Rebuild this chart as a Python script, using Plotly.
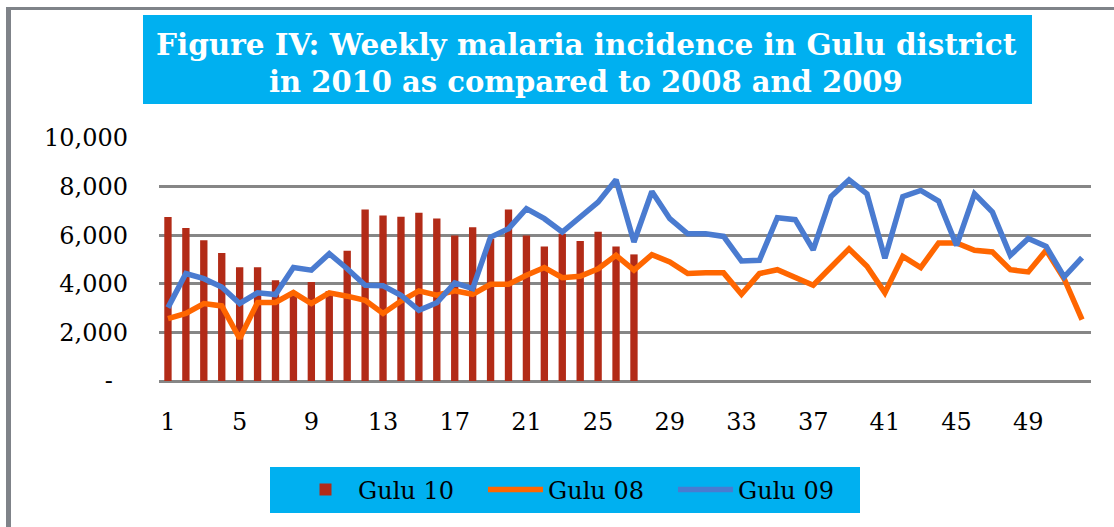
import plotly.graph_objects as go

weeks = list(range(1, 53))
gulu10 = [6750, 6300, 5790, 5270, 4680, 4680, 4150, 3600, 4070, 3700,
          5360, 7060, 6810, 6760, 6920, 6690, 5990, 6330, 5850, 7060,
          5990, 5530, 6060, 5760, 6140, 5530, 5210]
gulu08 = [2570, 2780, 3190, 3090, 1750, 3230, 3230, 3640, 3190, 3630,
          3490, 3320, 2780, 3290, 3710, 3530, 3710, 3570, 3980, 3980,
          4350, 4670, 4250, 4310, 4620, 5170, 4560, 5200, 4900, 4420,
          4450, 4450, 3570, 4420, 4580, 4280, 3940, 4690, 5440, 4720,
          3630, 5130, 4670, 5680, 5680, 5380, 5310, 4580, 4490, 5380,
          4210, 2530]
gulu09 = [3020, 4420, 4210, 3870, 3190, 3630, 3560, 4670, 4560, 5240,
          4620, 3940, 3920, 3530, 2910, 3220, 4040, 3800, 5920, 6270,
          7090, 6680, 6130, 6740, 7360, 8280, 5720, 7800, 6680, 6060,
          6060, 5950, 4940, 4970, 6720, 6640, 5400, 7590, 8280, 7700,
          5050, 7590, 7840, 7400, 5580, 7700, 6950, 5170, 5860, 5540,
          4280, 5080]
xtick_vals = list(range(1, 53, 4))
ytick_vals = [0, 2000, 4000, 6000, 8000, 10000]
ytick_text = ["-\u00a0\u00a0", "2,000", "4,000", "6,000", "8,000", "10,000"]
title_lines = ["Figure IV: Weekly malaria incidence in Gulu district",
               "in 2010 as compared to 2008 and 2009"]

SERIF = "DejaVu Serif"
CYAN = "#00B0F0"

fig = go.Figure()
fig.add_trace(go.Bar(x=weeks[:len(gulu10)], y=gulu10, name="Gulu 10",
                     marker=dict(color="#B22B17", line=dict(width=0))))
fig.add_trace(go.Scatter(x=weeks, y=gulu08, name="Gulu 08", mode="lines",
                         line=dict(color="#FF6600", width=5.5)))
fig.add_trace(go.Scatter(x=weeks, y=gulu09, name="Gulu 09", mode="lines",
                         line=dict(color="#4A7BD0", width=5.5)))

L, T, R, B = 159, 138, 23, 146
W, H = 1114, 527
pw, ph = W - L - R, H - T - B

def px(x):
    return (x - L) / pw

def py(y):
    return (H - B - y) / ph

shapes = [
    dict(type="rect", xref="paper", yref="paper", x0=px(143), x1=px(1032),
         y0=py(104), y1=py(15), fillcolor=CYAN, line=dict(width=0), layer="below"),
    dict(type="rect", xref="paper", yref="paper", x0=px(270), x1=px(860),
         y0=py(513), y1=py(467), fillcolor=CYAN, line=dict(width=0), layer="below"),
    dict(type="line", xref="paper", yref="paper", x0=px(6), x1=px(1114),
         y0=py(8.5), y1=py(8.5), line=dict(color="#7F8389", width=3)),
    dict(type="line", xref="paper", yref="paper", x0=px(8.5), x1=px(8.5),
         y0=py(7), y1=py(527), line=dict(color="#7F8389", width=5)),
]

annotations = [
    dict(text="<b>%s</b>" % title_lines[0], xref="paper", yref="paper",
         x=px(586), y=py(44), xanchor="center", yanchor="middle", showarrow=False,
         font=dict(family=SERIF, size=29.5, color="white")),
    dict(text="<b>%s</b>" % title_lines[1], xref="paper", yref="paper",
         x=px(586), y=py(82), xanchor="center", yanchor="middle", showarrow=False,
         font=dict(family=SERIF, size=29, color="white")),
]

fig.update_layout(
    width=W, height=H, autosize=False,
    margin=dict(l=L, r=R, t=T, b=B, pad=0),
    paper_bgcolor="white", plot_bgcolor="white",
    bargap=0.59,
    shapes=shapes, annotations=annotations,
    font=dict(family=SERIF, size=24, color="black"),
    legend=dict(orientation="h", x=px(578), xanchor="center", y=py(490),
                yanchor="middle", bgcolor="rgba(0,0,0,0)",
                font=dict(family=SERIF, size=24, color="black"),
                entrywidth=120, itemwidth=55, traceorder="normal"),
    xaxis=dict(range=[0.5, 52.5], tickmode="array", tickvals=xtick_vals,
               showgrid=False, zeroline=False, showline=False, ticks="",
               ticklabelstandoff=24, tickfont=dict(family=SERIF, size=24)),
    yaxis=dict(range=[0, 10000], tickmode="array", tickvals=ytick_vals,
               ticktext=ytick_text, showgrid=True, gridcolor="#868686",
               gridwidth=2.5, zeroline=True, zerolinecolor="#868686",
               zerolinewidth=2.5, showline=False, ticks="",
               ticklabelstandoff=30, tickfont=dict(family=SERIF, size=24)),
)

fig.write_html("out.html", config={"displayModeBar": False},
               post_script="document.body.style.margin='0';")
